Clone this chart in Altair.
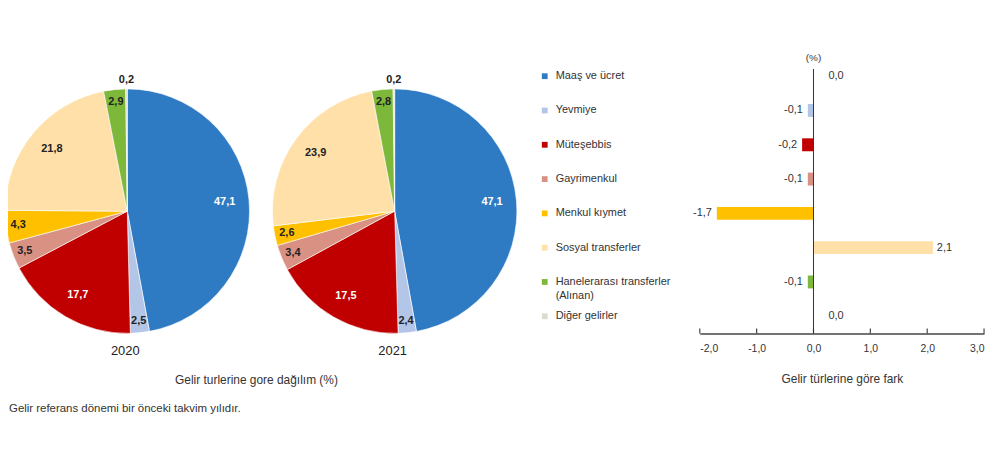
import altair as alt
import pandas as pd

# ---------------- data ----------------
categories = ["Maaş ve ücret", "Yevmiye", "Müteşebbis", "Gayrimenkul",
              "Menkul kıymet", "Sosyal transferler",
              "Hanelerarası transferler (Alınan)", "Diğer gelirler"]
share_2020 = [47.1, 2.5, 17.7, 3.5, 4.3, 21.8, 2.9, 0.2]
share_2021 = [47.1, 2.4, 17.5, 3.4, 2.6, 23.9, 2.8, 0.2]
diff = [0.0, -0.1, -0.2, -0.1, -1.7, 2.1, -0.1, 0.0]
years = ["2020", "2021"]
colors = ["#2E7BC4", "#B4C6E7", "#C00000", "#D99184",
          "#FFC000", "#FFE0A8", "#7DB83A", "#D9DDD0"]
x_ticks = [-2.0, -1.0, 0.0, 1.0, 2.0, 3.0]
pie_caption = "Gelir turlerine gore dağılım (%)"
bar_title = "Gelir türlerine göre fark"
footnote = "Gelir referans dönemi bir önceki takvim yılıdır."

# ---------------- layout ----------------
W, H = 286, 276
R = 123
FONT = "Liberation Sans"
centers = {"2020": -576, "2021": -307}
CY = 153

pie_rows = []
for yr, vals in zip(years, [share_2020, share_2021]):
    for i, (c, v) in enumerate(zip(categories, vals)):
        pie_rows.append(dict(year=yr, cat=c, idx=i, value=v))
pie_df = pd.DataFrame(pie_rows)
bar_df = pd.DataFrame(dict(cat=categories, idx=list(range(len(categories))), diff=diff))
tick_df = pd.DataFrame(dict(t=x_ticks))

color = alt.Color("cat:N", scale=alt.Scale(domain=categories, range=colors), legend=None)
yenc = alt.Y("cat:N", sort=categories,
             scale=alt.Scale(domain=categories, paddingInner=0, paddingOuter=0), axis=None)
xscale = alt.Scale(domain=[-2, 3], nice=False, zero=False)
fmt = "replace(replace(format(datum.{f}, '.1f'), '.', ','), '\u2212', '-')"

layers = []

# ---- pies ----
for yr in years:
    base = alt.Chart(pie_df).transform_filter(alt.datum.year == yr)
    arc = base.mark_arc(radius=R, stroke="white", strokeWidth=0.6).encode(
        theta=alt.Theta("value:Q", stack=True),
        order=alt.Order("idx:Q"),
        color=color,
        x=alt.value(centers[yr]), y=alt.value(CY))
    txt = base.transform_window(
        cum="sum(value)", sort=[alt.SortField("idx")], frame=[None, 0]
    ).transform_joinaggregate(total="sum(value)").transform_calculate(
        lab=fmt.format(f="value"),
        ang="(datum.cum - datum.value / 2) / datum.total * 2 * PI",
        r=f"datum.value >= 10 ? {R}*0.8 : (datum.value < 1 ? {R}*1.07 : {R}*0.9)"
    ).mark_text(font=FONT, fontSize=11, fontWeight="bold").encode(
        theta=alt.Theta("ang:Q", scale=None, stack=None),
        radius=alt.Radius("r:Q", scale=None),
        text="lab:N",
        color=alt.condition("datum.idx == 0 || datum.idx == 2",
                            alt.value("white"), alt.value("#222222")),
        x=alt.value(centers[yr]), y=alt.value(CY))
    ylab = alt.Chart(pd.DataFrame(dict(year=[yr]))).mark_text(
        font=FONT, fontSize=13, color="#222222").encode(
        text="year:N", x=alt.value(centers[yr] - 2), y=alt.value(294))
    layers += [arc, txt, ylab]

# ---- annotations ----
cap_df = pd.DataFrame(dict(t=[pie_caption]))
layers.append(alt.Chart(cap_df).mark_text(font=FONT, fontSize=12, color="#333333").encode(
    text="t:N", x=alt.value(-446), y=alt.value(323)))
foot_df = pd.DataFrame(dict(t=[footnote]))
layers.append(alt.Chart(foot_df).mark_text(font=FONT, fontSize=11.5, color="#333333",
                                           align="left").encode(
    text="t:N", x=alt.value(-695), y=alt.value(352)))

# ---- legend rows ----
layers.append(alt.Chart(bar_df).mark_square(size=34, opacity=1).encode(
    x=alt.value(-156), y=yenc, color=color))
layers.append(alt.Chart(bar_df).transform_calculate(
    lbl="replace(datum.cat, ' (', '\\n(')"
).mark_text(align="left", baseline="top", dy=-6, fontSize=11, font=FONT,
            color="#333333", lineBreak="\n", lineHeight=14).encode(
    x=alt.value(-145), y=yenc, text="lbl:N"))

# ---- bar chart ----
bars = alt.Chart(bar_df).mark_bar(size=13).encode(
    x=alt.X("diff:Q", scale=xscale,
            axis=alt.Axis(values=x_ticks, labelExpr=fmt.format(f="value"),
                          title=bar_title, grid=False, tickSize=0,
                          domainColor="#444444", domainWidth=1.5,
                          labelFont=FONT, labelFontSize=10.5, labelColor="#333333",
                          labelPadding=10, titleFont=FONT, titleFontSize=12,
                          titleFontWeight="normal", titleColor="#333333",
                          titlePadding=20)),
    x2=alt.datum(0),
    y=yenc, color=color)
layers.append(bars)

layers.append(alt.Chart(tick_df).mark_rule(color="#444444", strokeWidth=1.2).encode(
    x=alt.X("t:Q", scale=xscale), y=alt.value(H - 5), y2=alt.value(H)))
layers.append(alt.Chart(tick_df).transform_filter("datum.t == 0").mark_rule(
    color="#333333", strokeWidth=1).encode(
    x=alt.X("t:Q", scale=xscale), y=alt.value(10), y2=alt.value(H)))
layers.append(alt.Chart(pd.DataFrame(dict(t=["(%)"]))).mark_text(
    font=FONT, fontSize=10, color="#333333").encode(
    text="t:N", x=alt.datum(0), y=alt.value(-1)))

lab_base = alt.Chart(bar_df).transform_calculate(lab=fmt.format(f="diff"))
for flt, align, dx in [("datum.diff < 0", "right", -5),
                       ("datum.diff == 0", "left", 15),
                       ("datum.diff > 0", "left", 4)]:
    layers.append(lab_base.transform_filter(flt).mark_text(
        align=align, dx=dx, font=FONT, fontSize=11, color="#333333").encode(
        x=alt.X("diff:Q", scale=xscale), y=yenc, text="lab:N"))

chart = alt.layer(*layers).resolve_scale(theta="independent").properties(
    width=W, height=H,
    autosize=alt.AutoSizeParams(type="none"),
    padding={"left": 696, "top": 50, "right": 8, "bottom": 124},
).configure_view(stroke=None)

chart.save("out.html", embed_options={"renderer": "svg", "actions": False})
